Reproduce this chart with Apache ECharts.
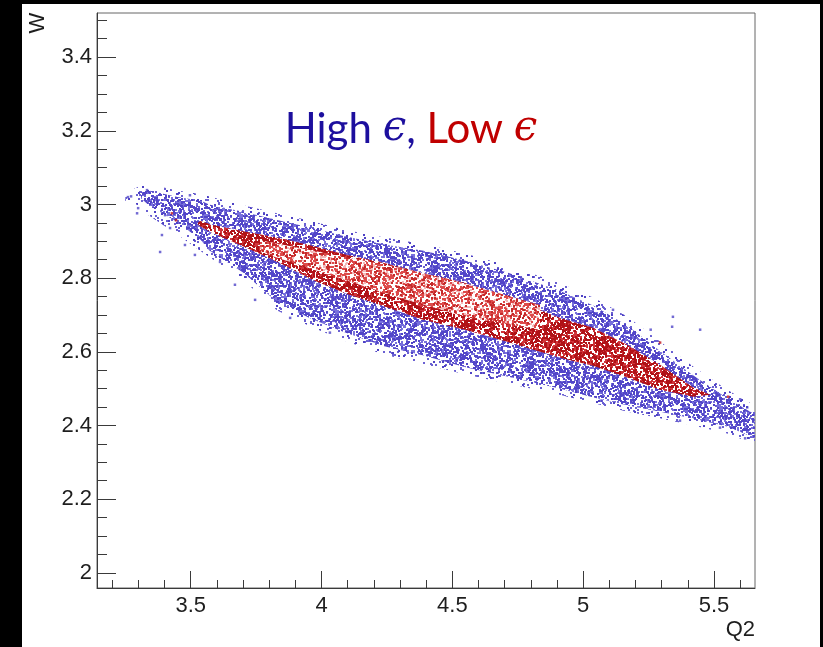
<!DOCTYPE html>
<html>
<head>
<meta charset="utf-8">
<script src="https://cdn.jsdelivr.net/npm/echarts@6/dist/echarts.min.js"></script>
<style>
html,body{margin:0;padding:0;background:#000;width:823px;height:647px;overflow:hidden;}
#c{position:absolute;left:22px;top:4px;width:798px;height:643px;background:#fff;}
</style>
</head>
<body>
<div id="c"></div>
<script>
// ---- axis ranges and tick labels ----
var X_MIN = 3.1418, X_MAX = 5.6567;
var Y_MIN = 1.9586, Y_MAX = 3.5199;
var xMajorTicks = [3.5, 4, 4.5, 5, 5.5];
var xMinorTicks = [3.2, 3.3, 3.4, 3.6, 3.7, 3.8, 3.9, 4.1, 4.2, 4.3, 4.4, 4.6, 4.7, 4.8, 4.9, 5.1, 5.2, 5.3, 5.4, 5.6];
var yMajorTicks = [2, 2.2, 2.4, 2.6, 2.8, 3, 3.2, 3.4];
var yMinorTicks = [2.05, 2.1, 2.15, 2.25, 2.3, 2.35, 2.45, 2.5, 2.55, 2.65, 2.7, 2.75, 2.85, 2.9, 2.95, 3.05, 3.1, 3.15, 3.25, 3.3, 3.35, 3.45, 3.5];

// ---- High epsilon (blue): dense body, edges ----
var blueQ2    = [3.31, 3.34, 3.45, 3.54, 3.57, 3.70, 3.83, 3.96, 4.08, 4.24, 4.39, 4.55, 4.71, 4.91, 5.04, 5.17, 5.29, 5.42, 5.55, 5.66];
var blueUpper = [3.036, 3.038, 3.020, 3.010, 3.000, 2.980, 2.958, 2.937, 2.915, 2.891, 2.874, 2.847, 2.815, 2.766, 2.725, 2.671, 2.604, 2.536, 2.474, 2.428];
var blueLower = [3.017, 2.998, 2.952, 2.903, 2.876, 2.815, 2.735, 2.690, 2.655, 2.615, 2.590, 2.558, 2.533, 2.500, 2.476, 2.454, 2.438, 2.419, 2.397, 2.365];

// ---- High epsilon (blue): sparse fringe, outer extent of the events ----
var haloQ2    = [3.25, 3.31, 3.34, 3.45, 3.54, 3.70, 3.83, 3.96, 4.08, 4.24, 4.39, 4.55, 4.71, 4.91, 5.04, 5.17, 5.29, 5.42, 5.55, 5.66];
var haloUpper = [3.030, 3.052, 3.055, 3.038, 3.028, 2.998, 2.976, 2.955, 2.933, 2.910, 2.893, 2.866, 2.835, 2.787, 2.747, 2.695, 2.630, 2.560, 2.497, 2.452];
var haloLower = [3.010, 2.995, 2.970, 2.918, 2.872, 2.795, 2.712, 2.668, 2.632, 2.592, 2.567, 2.538, 2.514, 2.483, 2.460, 2.437, 2.420, 2.400, 2.378, 2.348];

// ---- Low epsilon (red) populated region ----
var redQ2    = [3.524, 3.536, 3.585, 3.715, 3.841, 3.967, 4.098, 4.224, 4.388, 4.549, 4.709, 4.912, 5.038, 5.168, 5.294, 5.420, 5.486];
var redUpper = [2.948, 2.955, 2.944, 2.925, 2.909, 2.887, 2.863, 2.844, 2.814, 2.787, 2.749, 2.692, 2.665, 2.619, 2.565, 2.503, 2.483];
var redLower = [2.948, 2.941, 2.922, 2.882, 2.841, 2.795, 2.757, 2.727, 2.687, 2.660, 2.627, 2.584, 2.562, 2.530, 2.497, 2.478, 2.483];

// lighter core of the red region
var coreQ2    = [3.765, 3.994, 4.300, 4.568, 4.835];
var coreUpper = [2.903, 2.871, 2.828, 2.782, 2.727];
var coreLower = [2.871, 2.817, 2.746, 2.692, 2.660];

// ---- isolated events outside the dense bands ----
var blueStrayQ2 = [3.260, 3.272, 3.295, 3.299, 3.333, 3.364, 3.383, 3.390, 3.402, 3.421, 3.478, 3.516, 3.612, 3.669, 3.746, 3.880, 4.032, 3.497, 5.114, 5.343, 5.340, 5.447, 5.600, 5.627, 5.258, 5.067, 5.370, 5.523, 5.619];
var blueStrayW  = [3.020, 3.022, 2.976, 2.990, 3.039, 3.012, 2.871, 2.917, 2.971, 2.936, 2.890, 2.863, 2.844, 2.782, 2.741, 2.692, 2.652, 3.025, 2.714, 2.695, 2.668, 2.660, 2.471, 2.449, 2.660, 2.467, 2.413, 2.394, 2.365];
var redStrayQ2 = [5.294, 5.554, 3.428, 3.444];
var redStrayW  = [2.625, 2.478, 2.976, 2.957];

// ---------------------------------------------------------------
function makePattern(size, bg, layers, seed) {
  var c = document.createElement('canvas');
  c.width = c.height = size;
  var g = c.getContext('2d');
  if (bg) { g.fillStyle = bg; g.fillRect(0, 0, size, size); }
  var s = seed;
  function nx() { s = (s * 16807) % 2147483647; return s / 2147483647; }
  layers.forEach(function (L) {
    g.fillStyle = L[0];
    for (var i = 0; i < L[1]; i++) {
      var px = Math.floor(nx() * size), py = Math.floor(nx() * size);
      g.fillRect(px, py, L[2], L[2]);
      if (px + L[2] > size) g.fillRect(px - size, py, L[2], L[2]);
      if (py + L[2] > size) g.fillRect(px, py - size, L[2], L[2]);
    }
  });
  return { image: c, repeat: 'repeat' };
}

var bluePat = makePattern(96, null, [['#7870dc', 800, 2], ['#5246c8', 1150, 2]], 12345);
var haloPat = makePattern(96, null, [['#6a60d2', 260, 2], ['#4e42c5', 160, 2]], 2468);
var redPat  = makePattern(96, '#ffffff', [['#d0343a', 1600, 2], ['#b01217', 1600, 2]], 54321);
var corePat = makePattern(96, '#ffffff', [['#f2b8b8', 900, 2], ['#dd4a4a', 1150, 2], ['#c42a2a', 450, 2]], 777);

function band(q, up, lo) {
  var pts = [];
  for (var i = 0; i < q.length; i++) pts.push([q[i], up[i]]);
  for (var j = q.length - 1; j >= 0; j--) pts.push([q[j], lo[j]]);
  return pts;
}

function polySeries(name, pts, fill, z) {
  return {
    name: name, type: 'custom', coordinateSystem: 'cartesian2d', z: z, silent: true,
    clip: true,
    data: [pts[0]],
    renderItem: function (params, api) {
      var p = pts.map(function (d) { return api.coord(d); });
      return { type: 'polygon', shape: { points: p }, style: { fill: fill, stroke: null }, silent: true };
    }
  };
}

function zip(a, b) { return a.map(function (v, i) { return [v, b[i]]; }); }

var axisCol = '#3a3a3a';
var labelFont = { color: '#1e1e1e', fontSize: 22, fontFamily: '"Liberation Sans", Arial, sans-serif' };

var chart = echarts.init(document.getElementById('c'), null, { renderer: 'canvas' });
chart.setOption({
  backgroundColor: 'transparent',
  animation: false,
  grid: { left: 75, top: 9, width: 658, height: 575, show: true, borderColor: '#666', borderWidth: 1, backgroundColor: 'transparent' },
  xAxis: [
    {
      type: 'value', min: X_MIN, max: X_MAX, position: 'bottom',
      axisLine: { show: true, onZero: false, lineStyle: { color: axisCol, width: 1 } },
      axisTick: { show: true, inside: true, length: 17, customValues: xMajorTicks, lineStyle: { color: axisCol } },
      axisLabel: Object.assign({ customValues: xMajorTicks, margin: 7, formatter: function (v) { return String(v); } }, labelFont),
      splitLine: { show: false }
    },
    {
      type: 'value', min: X_MIN, max: X_MAX, position: 'bottom',
      axisLine: { show: false, onZero: false },
      axisTick: { show: true, inside: true, length: 8, customValues: xMinorTicks, lineStyle: { color: axisCol } },
      axisLabel: { show: false },
      splitLine: { show: false }
    }
  ],
  yAxis: [
    {
      type: 'value', min: Y_MIN, max: Y_MAX, position: 'left',
      axisLine: { show: true, onZero: false, lineStyle: { color: axisCol, width: 1 } },
      axisTick: { show: true, inside: true, length: 19, customValues: yMajorTicks, lineStyle: { color: axisCol } },
      axisLabel: Object.assign({ customValues: yMajorTicks, margin: 5, formatter: function (v) { return String(v); } }, labelFont),
      splitLine: { show: false }
    },
    {
      type: 'value', min: Y_MIN, max: Y_MAX, position: 'left',
      axisLine: { show: false, onZero: false },
      axisTick: { show: true, inside: true, length: 10, customValues: yMinorTicks, lineStyle: { color: axisCol } },
      axisLabel: { show: false },
      splitLine: { show: false }
    }
  ],
  graphic: { elements: [
    { type: 'text', x: 15.5, y: 19, rotation: Math.PI / 2, z: 10,
      style: { text: 'W', fill: '#1e1e1e', font: '22px "Liberation Sans", Arial, sans-serif', align: 'center', verticalAlign: 'middle' } },
    { type: 'text', x: 733, y: 626, z: 10,
      style: { text: 'Q2', fill: '#1e1e1e', font: '22px "Liberation Sans", Arial, sans-serif', align: 'right', verticalAlign: 'middle' } },
    { type: 'text', x: 389, y: 125, z: 10,
      style: {
        text: '{b|High }{be|ϵ}{b|, }{r|Low }{re|ϵ}',
        align: 'center', verticalAlign: 'middle',
        rich: {
          b:  { fill: '#1d0f9e', font: '42px Lato, "Open Sans", sans-serif' },
          be: { fill: '#1d0f9e', font: 'italic 42px "DejaVu Serif", serif' },
          r:  { fill: '#c00000', font: '42px Lato, "Open Sans", sans-serif' },
          re: { fill: '#c00000', font: 'italic 42px "DejaVu Serif", serif' }
        }
      } }
  ] },
  series: [
    polySeries('High ε fringe', band(haloQ2, haloUpper, haloLower), haloPat, 1),
    polySeries('High ε', band(blueQ2, blueUpper, blueLower), bluePat, 2),
    { name: 'High ε stray', type: 'scatter', z: 3, silent: true, symbol: 'rect', symbolSize: 2.5,
      itemStyle: { color: '#5046c8' }, data: zip(blueStrayQ2, blueStrayW) },
    polySeries('Low ε', band(redQ2, redUpper, redLower), redPat, 4),
    polySeries('Low ε core', band(coreQ2, coreUpper, coreLower), corePat, 5),
    { name: 'Low ε stray', type: 'scatter', z: 6, silent: true, symbol: 'rect', symbolSize: 2.5,
      itemStyle: { color: '#c0141a' }, data: zip(redStrayQ2, redStrayW) }
  ]
});
</script>
</body>
</html>
